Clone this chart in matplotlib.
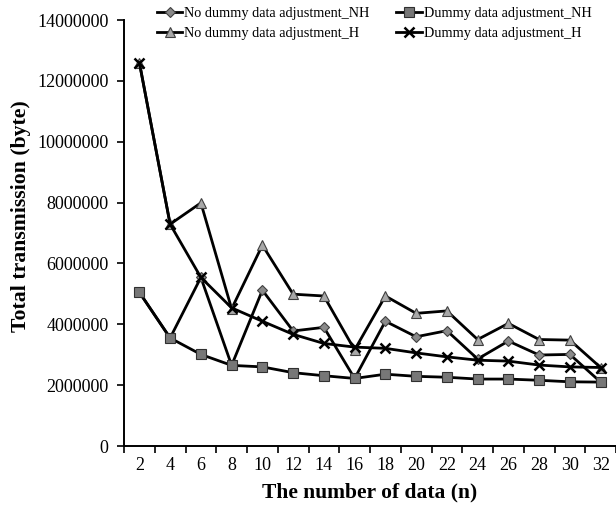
import numpy as np
import matplotlib.pyplot as plt

n_values = [2, 4, 6, 8, 10, 12, 14, 16, 18, 20, 22, 24, 26, 28, 30, 32]

no_dummy_nh = [5050000, 3550000, 5540000, 2650000, 5120000, 3780000, 3900000, 2220000,
               4100000, 3590000, 3790000, 2860000, 3450000, 2990000, 3010000, 2100000]
dummy_nh = [5050000, 3550000, 3010000, 2650000, 2600000, 2410000, 2310000, 2220000,
            2360000, 2290000, 2260000, 2200000, 2200000, 2160000, 2110000, 2100000]
no_dummy_h = [12600000, 7290000, 7990000, 4510000, 6600000, 4990000, 4930000, 3160000,
              4930000, 4360000, 4440000, 3500000, 4030000, 3500000, 3480000, 2580000]
dummy_h = [12600000, 7290000, 5540000, 4540000, 4100000, 3670000, 3370000, 3250000,
           3210000, 3060000, 2930000, 2820000, 2790000, 2660000, 2600000, 2580000]

plt.rcParams["font.family"] = ["Liberation Serif", "DejaVu Serif"]

fig = plt.figure(figsize=(6.16, 5.12), dpi=100)
ax = fig.add_axes([0.2013, 0.1289, 0.7987, 0.832])

x = np.arange(1, len(n_values) + 1)
lw = 2.0
ax.plot(x, no_dummy_nh, color="black", lw=lw, marker="D", ms=5,
        mfc="#8a8a8a", mec="#404040", mew=0.8, label="No dummy data adjustment_NH", zorder=2)
ax.plot(x, no_dummy_h, color="black", lw=lw, marker="^", ms=7,
        mfc="#a8a8a8", mec="#404040", mew=0.8, label="No dummy data adjustment_H", zorder=3)
ax.plot(x, dummy_nh, color="black", lw=lw, marker="s", ms=6.5,
        mfc="#777777", mec="#303030", mew=0.8, label="Dummy data adjustment_NH", zorder=4)
ax.plot(x, dummy_h, color="black", lw=lw, marker="x", ms=7, mew=1.8,
        mec="black", label="Dummy data adjustment_H", zorder=5)

ax.set_ylim(0, 14000000)
ax.set_yticks(np.arange(0, 14000001, 2000000))
ax.set_xlim(0.5, 0.5 + 0.7987 * 616 / 30.9)
ax.set_xticks(x)
ax.set_xticklabels([str(v) for v in n_values])
ax.set_xticks(np.arange(0.5, len(n_values) + 0.6, 1), minor=True)
ax.tick_params(axis="x", which="major", length=0, labelsize=13, pad=8)
ax.tick_params(axis="x", which="minor", length=5, width=1.2, direction="out")
ax.tick_params(axis="y", length=5, width=1.2, direction="out", labelsize=13, pad=6)
ax.ticklabel_format(axis="y", style="plain")

for side in ("top", "right"):
    ax.spines[side].set_visible(False)
for side in ("left", "bottom"):
    ax.spines[side].set_linewidth(1.4)

ax.set_xlabel("The number of data (n)", fontsize=15.5, fontweight="bold", labelpad=6)
ax.set_ylabel("Total transmission (byte)", fontsize=15.7, fontweight="bold", labelpad=12)
ax.yaxis.set_label_coords(-0.19, 0.54)

fig.legend(loc="upper left", bbox_to_anchor=(0.245, 0.997), ncol=2, frameon=False,
           fontsize=10.3, handlelength=1.8, handletextpad=0.1, columnspacing=1.9,
           labelspacing=0.5, borderaxespad=0)

fig.savefig("out.png", dpi=100)
